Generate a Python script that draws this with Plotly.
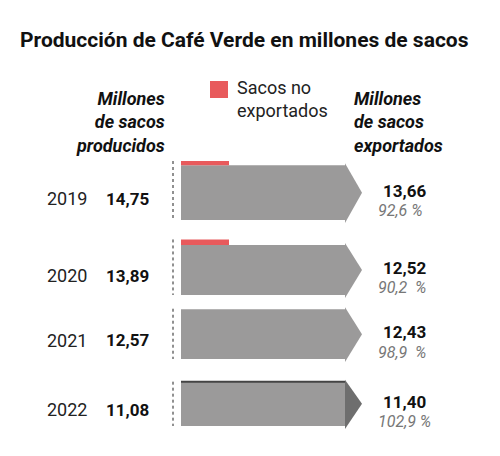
import plotly.graph_objects as go

years = ["2019", "2020", "2021", "2022"]
produced = [14.75, 13.89, 12.57, 11.08]
exported = [13.66, 12.52, 12.43, 11.40]
pct_labels = ["92,6 %", "90,2  %", "98,9  %", "102,9 %"]
prod_labels = ["14,75", "13,89", "12,57", "11,08"]
exp_labels = ["13,66", "12,52", "12,43", "11,40"]

bottoms = [220, 295, 359, 426]
K = 4.0
X0, XB, XT, XR = 181, 345, 362, 229
GRAY, RED, DARK = "#9b9a9a", "#e85a5c", "#6e6e6e"
FONT = "Roboto"

fig = go.Figure()
ann = []
for i, y in enumerate(years):
    b = bottoms[i]
    p, e = produced[i], exported[i]
    gtop = b - min(p, e) * K
    ptop = b - p * K
    mid = (gtop + b) / 2
    fig.add_trace(go.Scatter(x=[X0, XB, XB, X0, X0], y=[b, b, gtop, gtop, b], fill="toself",
                             fillcolor=GRAY, line=dict(width=0), mode="lines", hoverinfo="skip"))
    head_col = DARK if e > p else GRAY
    fig.add_trace(go.Scatter(x=[XB, XT, XB, XB], y=[b + 3, mid, gtop - 2, b + 3], fill="toself",
                             fillcolor=head_col, line=dict(width=0), mode="lines", hoverinfo="skip"))
    if p > e:
        fig.add_trace(go.Scatter(x=[X0, XR, XR, X0, X0], y=[gtop, gtop, ptop, ptop, gtop], fill="toself",
                                 fillcolor=RED, line=dict(width=0), mode="lines", hoverinfo="skip"))
    else:
        fig.add_trace(go.Scatter(x=[X0, XB], y=[gtop, gtop], mode="lines",
                                 line=dict(color="#444", width=2), hoverinfo="skip"))
    fig.add_trace(go.Scatter(x=[173, 173], y=[ptop, b], mode="lines",
                             line=dict(color="#222", width=1, dash="dot"), hoverinfo="skip"))
    ty = mid + 6
    ann += [
        dict(x=45, y=ty, text=y, xanchor="left", font=dict(size=18, color="#222")),
        dict(x=104, y=ty, text="<b>%s</b>" % prod_labels[i], xanchor="left", font=dict(size=17, color="#111")),
        dict(x=381, y=ty - 8, text="<b>%s</b>" % exp_labels[i], xanchor="left", font=dict(size=17, color="#111")),
        dict(x=376, y=ty + 12, text="<i>%s</i>" % pct_labels[i], xanchor="left", font=dict(size=16, color="#777")),
    ]

ann += [
    dict(x=244, y=40, text="<b>Producción de Café Verde en millones de sacos</b>", xanchor="center",
         font=dict(size=21, color="#111")),
    dict(x=167, y=122, text="<b><i>Millones<br>de sacos<br>producidos</i></b>", xanchor="right", align="right",
         font=dict(size=18, color="#111")),
    dict(x=352, y=122, text="<b><i>Millones<br>de sacos<br>exportados</i></b>", xanchor="left", align="left",
         font=dict(size=18, color="#111")),
    dict(x=235, y=99, text="Sacos no<br>exportados", xanchor="left", align="left",
         font=dict(size=18, color="#222")),
]
for a in ann:
    a.update(xref="x", yref="y", showarrow=False, yanchor="middle")
    a["font"]["family"] = FONT

fig.add_shape(type="rect", xref="x", yref="y", x0=210, x1=228, y0=81, y1=98, fillcolor=RED, line_width=0)

fig.update_layout(width=500, height=456, margin=dict(l=0, r=0, t=0, b=0), showlegend=False,
                  paper_bgcolor="white", plot_bgcolor="white", annotations=ann,
                  xaxis=dict(range=[8, 508], visible=False, fixedrange=True),
                  yaxis=dict(range=[464, 8], visible=False, fixedrange=True))
fig.write_html("out.html")
